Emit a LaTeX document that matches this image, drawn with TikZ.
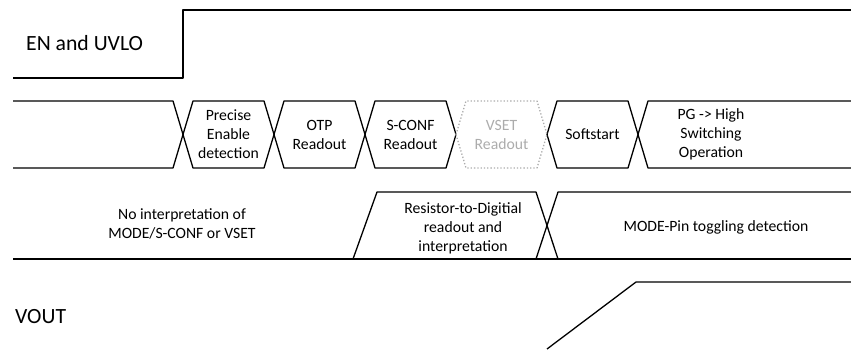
\documentclass[tikz,border=0pt]{standalone}
\usepackage{fontspec}
\setmainfont{Carlito}
\usetikzlibrary{positioning}

\begin{document}
\begin{tikzpicture}[
  x=1pt, y=-1pt,
  signal/.style={line width=1.3pt, line join=round},
  ghost/.style={signal, dotted, draw=gray!65},
  label/.style={font=\fontsize{21.7}{26}\selectfont, anchor=base west, inner sep=0pt},
  state/.style={align=center, font=\fontsize{15.7}{19}\selectfont},
  ghosttext/.style={state, text=gray!65}
]
  \useasboundingbox (0,0) rectangle (851,349);

  % EN and UVLO
  \node[label] (en) at (26,50) {EN and UVLO};
  \draw[signal] (13,78) -- (183,78) -- (183,10) -- (851,10);

  % startup sequence
  \draw[signal] (13,101) -- (173,101) -- (183,134.5) -- (173,168) -- (13,168);
  \foreach \a/\b in {183/274, 274/365, 365/456, 547/638}
    \draw[signal] (\a,134.5) -- (\a+10,101) -- (\b-10,101) -- (\b,134.5)
      -- (\b-10,168) -- (\a+10,168) -- cycle;
  \draw[ghost] (456,134.5) -- (466,101) -- (537,101) -- (547,134.5)
    -- (537,168) -- (466,168) -- cycle;
  \draw[signal] (851,101) -- (648,101) -- (638,134.5) -- (648,168) -- (851,168);

  \node[state] (precise) at (228.5,134.5) {Precise\\Enable\\detection};
  \node[state] (otp) at (319.5,134.5) {OTP\\Readout};
  \node[state] (sconf) at (410.5,134.5) {S-CONF\\Readout};
  \node[ghosttext] (vset) at (501.5,134.5) {VSET\\Readout};
  \node[state] (soft) at (592.5,134.5) {Softstart};
  \node[state] (pg) at (711,134.5) {PG -> High\\Switching\\Operation};

  % MODE / S-CONF / VSET pins
  \draw[signal] (13,259) -- (851,259);
  \draw[signal] (353,259) -- (377,192) -- (536,192) -- (558,259);
  \draw[signal] (536,259) -- (558,192) -- (851,192);

  \node[state] (nointerp) at (182,224) {No interpretation of\\MODE/S-CONF or VSET};
  \node[state] (rtod) at (463,228) {Resistor-to-Digitial\\readout and\\interpretation};
  \node[state] (toggle) at (716,227) {MODE-Pin toggling detection};

  % VOUT
  \node[label] (vout) at (15,323) {VOUT};
  \draw[signal] (547,349) -- (636,282) -- (851,282);
\end{tikzpicture}
\end{document}
